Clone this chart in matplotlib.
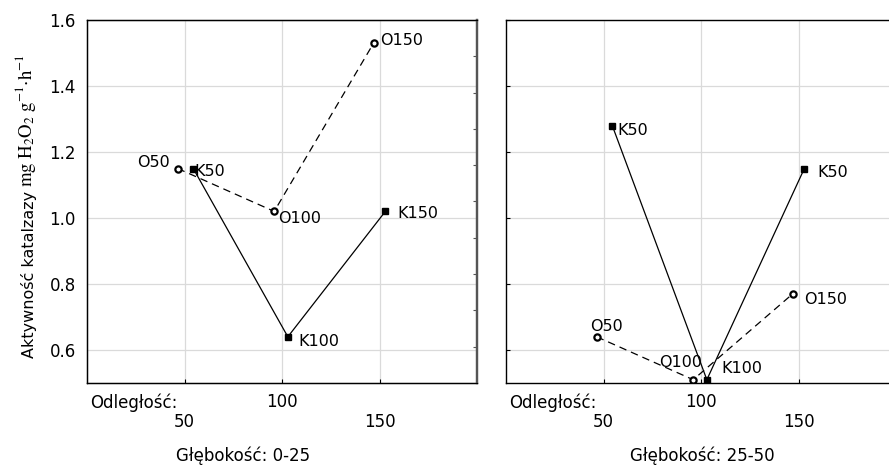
import matplotlib
matplotlib.use("Agg")
import matplotlib.pyplot as plt
import matplotlib.transforms as mtransforms

plt.rcParams["font.family"] = ["DejaVu Sans"]
plt.rcParams["mathtext.fontset"] = "stix"

# distance positions (slightly shifted so the two series don't overlap)
o_x = [46.5, 96, 147]
k_x = [54.5, 103, 153]

# top layer 0-25 cm
o_top = [1.15, 1.02, 1.53]
k_top = [1.15, 0.64, 1.02]
o_top_labels = ["O50", "O100", "O150"]
k_top_labels = ["K50", "K100", "K150"]

# bottom layer 25-50 cm
o_bot = [0.64, 0.51, 0.77]
k_bot = [1.28, 0.51, 1.15]
o_bot_labels = ["O50", "O100", "O150"]
k_bot_labels = ["K50", "K100", "K50"]

depths = ["Głębokość: 0-25", "Głębokość: 25-50"]
y_ticks = [0.6, 0.8, 1.0, 1.2, 1.4, 1.6]
x_ticks = [50, 100, 150]

# label offsets in pixels (dx, dy, ha)
o_top_off = [(-8, 6, "right"), (4, -7, "left"), (6, 3, "left")]
k_top_off = [(1, -3, "left"), (11, -5, "left"), (12, -2, "left")]
o_bot_off = [(-7, 10, "left"), (9, 17, "right"), (11, -6, "left")]
k_bot_off = [(5, -5, "left"), (15, 11, "left"), (13, -4, "left")]

W, H = 889, 472
fig = plt.figure(figsize=(W / 100, H / 100), dpi=100)
ax1 = fig.add_axes([87 / W, 1 - 383 / H, 390 / W, 363 / H])
ax2 = fig.add_axes([506 / W, 1 - 383 / H, 390 / W, 363 / H])

panels = [
    (ax1, o_top, k_top, o_top_labels, k_top_labels, o_top_off, k_top_off, 0.40),
    (ax2, o_bot, k_bot, o_bot_labels, k_bot_labels, o_bot_off, k_bot_off, 0.503),
]

for i, (ax, o_y, k_y, o_lab, k_lab, o_off, k_off, xl_pos) in enumerate(panels):
    ax.set_xlim(0, 200)
    ax.set_ylim(0.5, 1.6)
    ax.grid(True, color="#dadada", linewidth=0.9)
    ax.set_axisbelow(True)

    ax.plot(o_x, o_y, color="black", linestyle=(0, (6, 4)), linewidth=0.9,
            marker="o", markersize=4.5, markerfacecolor="white",
            markeredgecolor="black", markeredgewidth=1.6)
    ax.plot(k_x, k_y, color="black", linestyle="-", linewidth=0.9,
            marker="s", markersize=5, markerfacecolor="black",
            markeredgecolor="black")

    for x, y, lab, (dx, dy, ha) in zip(o_x, o_y, o_lab, o_off):
        ax.annotate(lab, (x, y), xytext=(dx, dy), textcoords="offset pixels",
                    ha=ha, va="center", fontsize=11.5)
    for x, y, lab, (dx, dy, ha) in zip(k_x, k_y, k_lab, k_off):
        ax.annotate(lab, (x, y), xytext=(dx, dy), textcoords="offset pixels",
                    ha=ha, va="center", fontsize=11.5)

    # staggered x tick labels
    ax.set_xticks(x_ticks)
    ax.set_xticklabels(["\n50", "100", "\n150"], fontsize=12, linespacing=1.15)
    ax.tick_params(axis="x", direction="in", length=3, pad=7)
    ax.set_yticks(y_ticks)

    trans = mtransforms.blended_transform_factory(ax.transAxes, ax.transAxes)
    ax.text(0.008, -0.03, "Odległość:", transform=trans, ha="left", va="top",
            fontsize=12)
    ax.text(xl_pos, -0.175, depths[i], transform=ax.transAxes, ha="center",
            va="top", fontsize=12)

    for s in ax.spines.values():
        s.set_linewidth(1.0)

ax1.set_yticklabels(["0.6", "0.8", "1.0", "1.2", "1.4", "1.6"], fontsize=12)
ax1.tick_params(axis="y", length=0, pad=8)
ax1.spines["right"].set_color("#555555")
ax1.spines["right"].set_linewidth(1.6)

# y label: sans part followed by the serif unit part
sans = fig.text(37 / W, 1 - 358 / H, "Aktywność katalzazy", rotation=90,
                ha="right", va="bottom", fontsize=11.5)
renderer = fig.canvas.get_renderer()
top = sans.get_window_extent(renderer).y1
fig.text(38 / W, (top + 4) / H, r"$\mathrm{mg\ H_2O_2\ g^{-1}{\cdot}h^{-1}}$",
         rotation=90, ha="right", va="bottom", fontsize=13.5)

# extra inward ticks on the right edge of the left panel
sec = ax1.twinx()
sec.set_ylim(0, 10)
sec.set_yticks(range(1, 10))
sec.set_yticklabels([])
sec.tick_params(axis="y", direction="in", length=3, color="#555555")
sec.spines["right"].set_color("#555555")
sec.spines["right"].set_linewidth(1.6)

ax2.set_yticklabels([])
ax2.tick_params(axis="y", direction="in", length=3)

fig.savefig("out.png", dpi=100)
